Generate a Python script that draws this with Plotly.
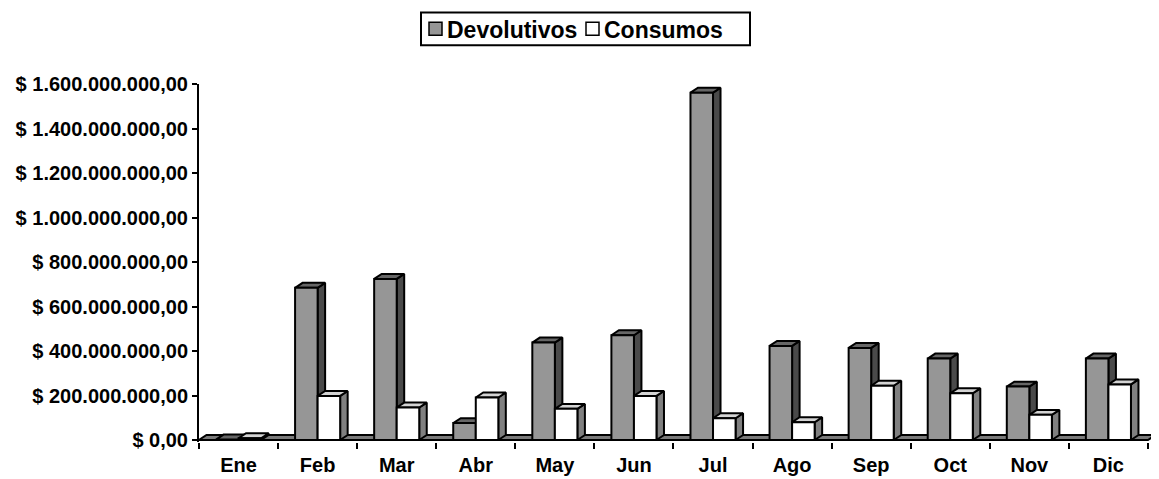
import plotly.graph_objects as go

# ---------------- data ----------------
months = ["Ene", "Feb", "Mar", "Abr", "May", "Jun", "Jul", "Ago", "Sep", "Oct", "Nov", "Dic"]
devolutivos = [2e6, 684e6, 724e6, 76e6, 438e6, 471e6, 1561e6, 423e6, 414e6, 366e6, 240e6, 366e6]
consumos = [8e6, 198e6, 146e6, 191e6, 140e6, 198e6, 98e6, 80e6, 244e6, 210e6, 113e6, 250e6]
series_names = ["Devolutivos", "Consumos"]
y_tick_values = [0, 2e8, 4e8, 6e8, 8e8, 1e9, 1.2e9, 1.4e9, 1.6e9]
y_tick_labels = ["$ 0,00", "$ 200.000.000,00", "$ 400.000.000,00", "$ 600.000.000,00",
                 "$ 800.000.000,00", "$ 1.000.000.000,00", "$ 1.200.000.000,00",
                 "$ 1.400.000.000,00", "$ 1.600.000.000,00"]

# ---------------- layout geometry ----------------
# page body has an 8px default margin; the figure is sized to fit inside the window
BODY = 8
W, H = 1159 - BODY, 479 - BODY
ML, MT = 199 - BODY, 84 - BODY
MR = W - (1156 - BODY)
MB = H - (444 - BODY)
plot_w = W - ML - MR
plot_h = H - MT - MB
Y_MAX = y_tick_values[-1]
ZERO_PX = 2
val_per_px = Y_MAX / (plot_h - ZERO_PX)
y_min = -ZERO_PX * val_per_px
CAT_PX = 79.08
x_min = -0.5
x_max = x_min + plot_w / CAT_PX
n = len(months)

BAR_W = 0.285
DDX = 7.5 / CAT_PX
DDY = 5 * val_per_px

FONT = "Liberation Sans, Arial, sans-serif"
LINE = dict(color="black", width=2)

styles = {
    "Devolutivos": dict(front="#969696", top="#666666", side="#4a4a4a"),
    "Consumos": dict(front="#ffffff", top="#d4d4d4", side="#808080"),
}


def px_x(X):
    """window pixel x -> paper x"""
    return (X - BODY - ML) / plot_w


def px_y(Y):
    """window pixel y -> paper y"""
    return 1 - (Y - BODY - MT) / plot_h


def faces(values, offset):
    fx, fy, tx, ty, sx, sy = [], [], [], [], [], []
    for i, v in enumerate(values):
        x0 = i + offset
        x1 = x0 + BAR_W
        fx += [x0, x1, x1, x0, x0, None]
        fy += [0, 0, v, v, 0, None]
        tx += [x0, x1, x1 + DDX, x0 + DDX, x0, None]
        ty += [v, v, v + DDY, v + DDY, v, None]
        sx += [x1, x1 + DDX, x1 + DDX, x1, x1, None]
        sy += [0, DDY, v + DDY, v, 0, None]
    return (fx, fy), (tx, ty), (sx, sy)


fig = go.Figure()

# floor
fig.add_trace(go.Scatter(
    x=[x_min, n - 0.5, n - 0.5 + DDX, x_min + DDX, x_min],
    y=[0, 0, DDY, DDY, 0],
    mode="lines", fill="toself", fillcolor="#7a7a7a", line=LINE,
    showlegend=False, hoverinfo="skip"))

for name, vals, off in [("Devolutivos", devolutivos, -BAR_W), ("Consumos", consumos, 0.0)]:
    st = styles[name]
    front, top, side = faces(vals, off)
    for (xs, ys), col in [(side, st["side"]), (top, st["top"]), (front, st["front"])]:
        fig.add_trace(go.Scatter(
            x=xs, y=ys, mode="lines", fill="toself", fillcolor=col, line=LINE,
            showlegend=False, hoverinfo="skip", name=name))

# ---------------- legend (drawn as box + swatches + text) ----------------
LEG_BOX = (421, 12, 750, 45)        # window px: left, top, right, bottom
LEG_SWATCH_X = [429, 586]           # left of each swatch
LEG_TEXT_X = [446, 603]
SW = 13
leg_mid = (LEG_BOX[1] + LEG_BOX[3]) / 2
shapes = [dict(type="rect", xref="paper", yref="paper",
               x0=px_x(LEG_BOX[0]), x1=px_x(LEG_BOX[2]),
               y0=px_y(LEG_BOX[3]), y1=px_y(LEG_BOX[1]),
               line=dict(color="black", width=2), fillcolor="white", layer="above")]
annotations = []
for name, sx, tx in zip(series_names, LEG_SWATCH_X, LEG_TEXT_X):
    shapes.append(dict(type="rect", xref="paper", yref="paper",
                       x0=px_x(sx), x1=px_x(sx + SW),
                       y0=px_y(leg_mid + SW / 2), y1=px_y(leg_mid - SW / 2),
                       line=dict(color="black", width=1.5),
                       fillcolor=styles[name]["front"], layer="above"))
    annotations.append(dict(xref="paper", yref="paper", x=px_x(tx), y=px_y(leg_mid + 1),
                            text=name, showarrow=False, xanchor="left", yanchor="middle",
                            font=dict(family=FONT, size=23, color="black", weight="bold"),
                            borderpad=0))

fig.update_layout(
    width=W, height=H,
    margin=dict(l=ML, r=MR, t=MT, b=MB),
    paper_bgcolor="white", plot_bgcolor="white",
    font=dict(family=FONT, size=20, color="black", weight="bold"),
    showlegend=False,
    shapes=shapes,
    annotations=annotations,
    xaxis=dict(
        range=[x_min, x_max], showgrid=False, zeroline=False, showline=False,
        tickmode="array", tickvals=list(range(n)), ticktext=months, ticks="",
        ticklabelstandoff=9,
        minor=dict(tickmode="array", tickvals=[i - 0.5 for i in range(n + 1)],
                   ticks="outside", ticklen=6, tickwidth=2, tickcolor="black"),
        fixedrange=True,
    ),
    yaxis=dict(
        range=[y_min, Y_MAX], showgrid=False, zeroline=False,
        showline=True, linecolor="black", linewidth=2,
        tickmode="array", tickvals=y_tick_values, ticktext=y_tick_labels,
        ticks="outside", ticklen=5, tickwidth=2, tickcolor="black",
        fixedrange=True,
    ),
)

fig.write_html("out.html")
